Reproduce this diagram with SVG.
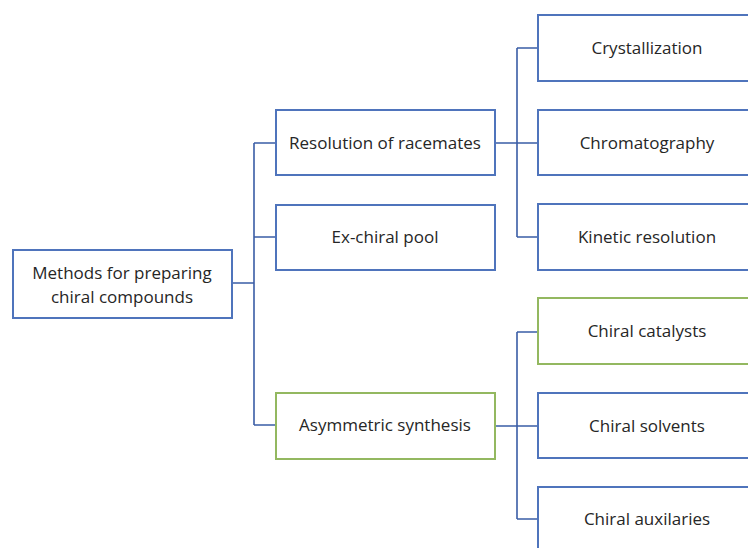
<svg xmlns="http://www.w3.org/2000/svg" width="748" height="548" viewBox="0 0 748 548">
<style>
.b{fill:#fff;stroke:#4f74bc;stroke-width:2}
.g{fill:#fff;stroke:#93b860;stroke-width:2}
.t{font-family:"Open Sans","Liberation Sans",sans-serif;font-size:17px;fill:#262626;text-anchor:middle;dominant-baseline:central}
.c{fill:none;stroke:#3a5da6;stroke-width:1.6}
</style>
<rect width="748" height="548" fill="#fff"/>
<g id="connectors">
<path class="c" d="M232,283H254M254,143V425M254,143H276M254,237H276M254,425H276"/>
<path class="c" d="M495,143H538M517,48V237M517,48H538M517,237H538"/>
<path class="c" d="M495,426H538M517,332V519M517,332H538M517,519H538"/>
</g>
<g id="root"><rect class="b" x="13" y="250" width="219" height="68"/><text class="t" x="122" y="272">Methods for preparing</text><text class="t" x="122" y="296">chiral compounds</text></g>
<g id="resolution"><rect class="b" x="276" y="110" width="219" height="65"/><text class="t" x="385" y="142">Resolution of racemates</text></g>
<g id="exchiral"><rect class="b" x="276" y="205" width="219" height="65"/><text class="t" x="385" y="236">Ex-chiral pool</text></g>
<g id="asymmetric"><rect class="g" x="276" y="393" width="219" height="66"/><text class="t" x="385" y="424">Asymmetric synthesis</text></g>
<g id="crystallization"><rect class="b" x="538" y="15" width="220" height="66"/><text class="t" x="647" y="47">Crystallization</text></g>
<g id="chromatography"><rect class="b" x="538" y="110" width="220" height="65"/><text class="t" x="647" y="142">Chromatography</text></g>
<g id="kinetic"><rect class="b" x="538" y="204" width="220" height="66"/><text class="t" x="647" y="236">Kinetic resolution</text></g>
<g id="catalysts"><rect class="g" x="538" y="298" width="220" height="66"/><text class="t" x="647" y="330">Chiral catalysts</text></g>
<g id="solvents"><rect class="b" x="538" y="393" width="220" height="65"/><text class="t" x="647" y="425">Chiral solvents</text></g>
<g id="auxiliaries"><rect class="b" x="538" y="487" width="220" height="80"/><text class="t" x="647" y="518">Chiral auxilaries</text></g>
</svg>
